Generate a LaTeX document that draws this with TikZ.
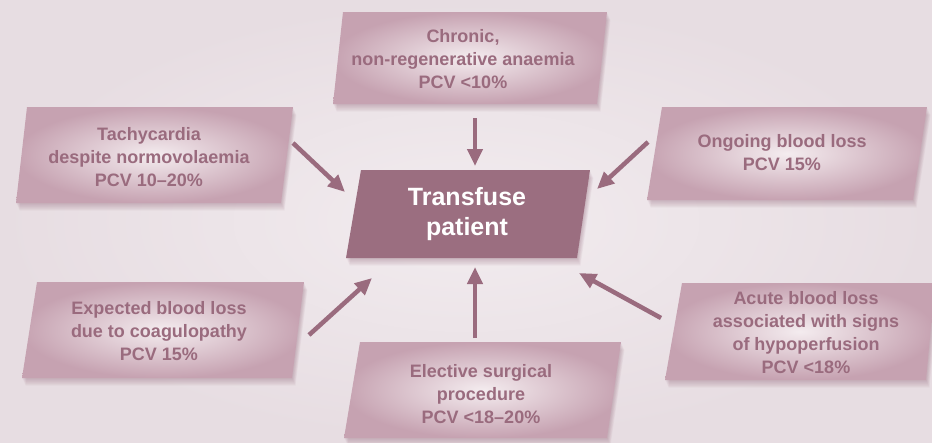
\documentclass[tikz,border=0pt]{standalone}
\usepackage{fontspec}
\setmainfont{Liberation Sans}
\usetikzlibrary{arrows.meta}
\definecolor{bgin}{HTML}{F2ECEF}
\definecolor{bgout}{HTML}{E7DDE2}
\definecolor{mauve}{HTML}{9A6B7E}
\definecolor{hubfill}{HTML}{9B6E80}
\definecolor{boxin}{HTML}{F4ECEF}
\definecolor{boxout}{HTML}{C6A2B1}
\definecolor{shad}{HTML}{8A5A6E}
\tikzset{
  lbl/.style={text=mauve, font=\fontsize{18}{23}\selectfont\bfseries, align=center, inner sep=0pt},
  hub/.style={text=white, font=\fontsize{25}{30}\selectfont\bfseries, align=center, inner sep=0pt},
  arr/.style={draw=mauve, line width=4.5pt, -{Triangle[length=17pt,width=15pt]}},
}
% shadowed parallelogram: #1 fill style, #2..#5 corners TL TR BR BL
\newcommand\pgramshape[5]{%
  \foreach \s in {1,...,7}{%
    \fill[shad, opacity=0.055] ([shift={(0.5*\s,1.1*\s)}]#2) -- ([shift={(0.5*\s,1.1*\s)}]#3) -- ([shift={(0.5*\s,1.1*\s)}]#4) -- ([shift={(0.5*\s,1.1*\s)}]#5) -- cycle;}
  \path[#1] (#2) -- (#3) -- (#4) -- (#5) -- cycle;
}
\begin{document}
\begin{tikzpicture}[x=1pt,y=-1pt]
\shade[inner color=bgin, outer color=bgout] (0,0) rectangle (932,442);
\useasboundingbox (0,0) rectangle (932,442);

% boxes
\pgramshape{shade, inner color=boxin, outer color=boxout}{343,12}{607,12}{597,104}{333,104}
\pgramshape{shade, inner color=boxin, outer color=boxout}{27,107}{293,107}{281,203}{16,203}
\pgramshape{shade, inner color=boxin, outer color=boxout}{662,107}{927,107}{913,200}{647,200}
\pgramshape{shade, inner color=boxin, outer color=boxout}{37,282}{304,282}{292,378}{22,378}
\pgramshape{shade, inner color=boxin, outer color=boxout}{360,342}{621,342}{607,438}{344,438}
\pgramshape{shade, inner color=boxin, outer color=boxout}{682,283}{935,283}{926,380}{665,380}
\pgramshape{fill=hubfill}{361,170}{590,170}{577,258}{346,258}

% texts
\node[lbl] (chronic) at (463,59) {Chronic,\\non-regenerative anaemia\\PCV <10\%};
\node[lbl] (tachy) at (149,157) {Tachycardia\\despite normovolaemia\\PCV 10–20\%};
\node[lbl] (ongoing) at (782,153) {Ongoing blood loss\\PCV 15\%};
\node[lbl] (expected) at (159,331) {Expected blood loss\\due to coagulopathy\\PCV 15\%};
\node[lbl] (elective) at (481,394) {Elective surgical\\procedure\\PCV <18–20\%};
\node[lbl] (acute) at (806,333) {Acute blood loss\\associated with signs\\of hypoperfusion\\PCV <18\%};
\node[hub] (hubtext) at (467,214) {Transfuse\\patient};

% arrow end points
\coordinate (c1) at (475,118); \coordinate (c2) at (475,166);
\coordinate (t1) at (293,143); \coordinate (t2) at (345,192);
\coordinate (o1) at (648,142); \coordinate (o2) at (597,189);
\coordinate (e1) at (309,335); \coordinate (e2) at (372,278);
\coordinate (s1) at (475,338); \coordinate (s2) at (475,267);
\coordinate (a1) at (661,318); \coordinate (a2) at (579,273);

\draw[arr] (c1) -- (c2);
\draw[arr] (t1) -- (t2);
\draw[arr] (o1) -- (o2);
\draw[arr] (e1) -- (e2);
\draw[arr] (s1) -- (s2);
\draw[arr] (a1) -- (a2);
\end{tikzpicture}
\end{document}
